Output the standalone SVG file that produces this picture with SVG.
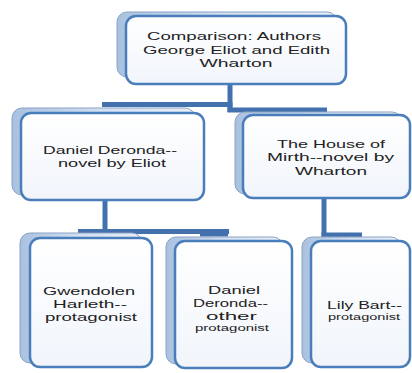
<svg xmlns="http://www.w3.org/2000/svg" width="412" height="373" viewBox="0 0 412 373">
<defs>
<linearGradient id="gBack" x1="0" y1="0" x2="1" y2="0">
<stop offset="0" stop-color="#A9C1E0"/>
<stop offset="0.5" stop-color="#D4E1F2"/>
<stop offset="1" stop-color="#E8EEF7"/>
</linearGradient>
<linearGradient id="gFront" x1="0" y1="0" x2="0" y2="1">
<stop offset="0" stop-color="#FFFFFF"/>
<stop offset="1" stop-color="#F1F5FB"/>
</linearGradient>
</defs>
<style>
.back{fill:url(#gBack);stroke:#8AA3C4;stroke-width:1}
.front{fill:url(#gFront);stroke:#4A7EBB;stroke-width:2.5}
.conn{stroke:#4271AE;stroke-width:5;fill:none;stroke-linecap:butt}
text{font-family:"Liberation Sans",Arial,sans-serif;fill:#222;text-anchor:middle}
.t{font-size:11px}
.s{font-size:8.5px}
</style>
<rect width="412" height="373" fill="#FFFFFF"/>
<g id="connectors">
<line class="conn" x1="230" y1="84" x2="230" y2="112"/>
<line class="conn" x1="102" y1="104.5" x2="232.5" y2="104.5"/>
<line class="conn" x1="227.5" y1="110" x2="327" y2="110"/>
<line class="conn" x1="105" y1="200" x2="105" y2="233.5"/>
<line class="conn" x1="78" y1="231.5" x2="229" y2="231.5"/>
<line class="conn" x1="324" y1="198" x2="324" y2="237"/>
<line class="conn" x1="200" y1="234" x2="228" y2="234"/>
<line class="conn" x1="321.5" y1="235" x2="362" y2="235"/>
</g>
<g id="node-root">
<rect class="back" x="117" y="12" width="220" height="65" rx="10"/>
<rect class="front" x="126" y="16" width="220" height="68" rx="10"/>
<text class="t" x="234" y="40" textLength="174" lengthAdjust="spacingAndGlyphs">Comparison: Authors</text>
<text class="t" x="236.5" y="54" textLength="187" lengthAdjust="spacingAndGlyphs">George Eliot and Edith</text>
<text class="t" x="236" y="67" textLength="73" lengthAdjust="spacingAndGlyphs">Wharton</text>
</g>
<g id="node-deronda">
<rect class="back" x="12" y="108" width="183" height="87" rx="10"/>
<rect class="front" x="21" y="113" width="183" height="87" rx="10"/>
<text class="t" x="110" y="154" textLength="134" lengthAdjust="spacingAndGlyphs">Daniel Deronda--</text>
<text class="t" x="112" y="167" textLength="108" lengthAdjust="spacingAndGlyphs">novel by Eliot</text>
</g>
<g id="node-mirth">
<rect class="back" x="235" y="112" width="167" height="82" rx="10"/>
<rect class="front" x="243" y="115" width="167" height="83" rx="10"/>
<text class="t" x="331" y="148" textLength="108" lengthAdjust="spacingAndGlyphs">The House of</text>
<text class="t" x="330.5" y="161" textLength="127" lengthAdjust="spacingAndGlyphs">Mirth--novel by</text>
<text class="t" x="331" y="175" textLength="72" lengthAdjust="spacingAndGlyphs">Wharton</text>
</g>
<g id="node-gwendolen">
<rect class="back" x="20" y="233" width="122" height="130" rx="10"/>
<rect class="front" x="30" y="238" width="122" height="129" rx="10"/>
<text class="t" x="89" y="295" textLength="92" lengthAdjust="spacingAndGlyphs">Gwendolen</text>
<text class="t" x="90" y="308" textLength="74" lengthAdjust="spacingAndGlyphs">Harleth--</text>
<text class="t" x="91" y="321" textLength="92" lengthAdjust="spacingAndGlyphs">protagonist</text>
</g>
<g id="node-daniel">
<rect class="back" x="166" y="237" width="117" height="127" rx="10"/>
<rect class="front" x="175" y="241" width="117" height="127" rx="10"/>
<text class="t" x="234" y="294" textLength="52" lengthAdjust="spacingAndGlyphs">Daniel</text>
<text class="t" x="230.5" y="307" textLength="75" lengthAdjust="spacingAndGlyphs">Deronda--</text>
<text class="t" x="231.5" y="320" textLength="51" lengthAdjust="spacingAndGlyphs">other</text>
<text class="s" x="232" y="331" textLength="74" lengthAdjust="spacingAndGlyphs">protagonist</text>
</g>
<g id="node-lily">
<rect class="back" x="302" y="237" width="99" height="126" rx="10"/>
<rect class="front" x="311" y="241" width="99" height="126" rx="10"/>
<text class="t" x="364.5" y="309" textLength="75" lengthAdjust="spacingAndGlyphs">Lily Bart--</text>
<text class="s" x="364" y="320" textLength="72" lengthAdjust="spacingAndGlyphs">protagonist</text>
</g>
</svg>
